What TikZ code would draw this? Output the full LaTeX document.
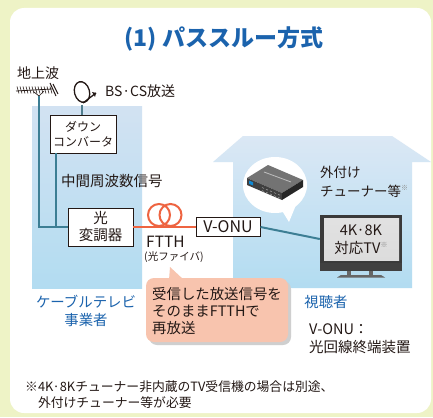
\documentclass[tikz,border=0pt]{standalone}
\usepackage{fontspec}
\setmainfont{Noto Sans CJK JP}
\usetikzlibrary{calc}

\definecolor{pagebg}{HTML}{EEF3C6}
\definecolor{titleblue}{HTML}{1B63AD}
\definecolor{ink}{HTML}{231815}
\definecolor{feedcol}{HTML}{3C7E94}
\definecolor{fibercol}{HTML}{EE6441}
\definecolor{zonetop}{HTML}{D2E2F2}
\definecolor{zonebot}{HTML}{B2DCF1}
\definecolor{bubblecol}{HTML}{F8C4AE}
\definecolor{shadowcol}{HTML}{CFCFCF}
\definecolor{tvframe}{HTML}{3A3A3A}
\definecolor{tvscreen}{HTML}{DCDCDC}
\definecolor{marknote}{HTML}{8A8A8A}

\newcommand\fsz[2]{\fontsize{#1}{#2}\selectfont}
\newcommand\kome{\raisebox{0.45em}{\fsz{7}{7}\textcolor{marknote}{※}}}

\tikzset{
  unitbox/.style={draw=ink, fill=white, line width=0.9pt, align=center, inner sep=0pt, text=ink},
  txt/.style={text=ink, align=left, inner sep=0pt},
  bluetxt/.style={text=titleblue, align=center, inner sep=0pt},
  feedline/.style={draw=feedcol, line width=2pt},
  fiberline/.style={draw=fibercol, line width=2pt},
}

\begin{document}
\begin{tikzpicture}[x=1pt,y=-1pt]
\useasboundingbox (0,0) rectangle (433,417);

% page and panel
\fill[pagebg] (0,0) rectangle (433,417);
\fill[white, rounded corners=14pt] (10,8) rectangle (431,413);

% cable operator zone
\shade[top color=zonetop, bottom color=zonebot] (32,107) rectangle (142,288);

% viewer's house
\shade[top color=zonetop!80!white, bottom color=zonebot]
  (233,288) -- (233,162) -- (213,162) -- (243,136) -- (392,136)
  -- (431,162) -- (412,162) -- (412,288) -- cycle;

% title
\node[bluetxt, font=\fsz{23}{26}\bfseries] (title) at (224,39) {(1) パススルー方式};

% terrestrial antenna
\coordinate (ant) at (39,96);
\draw[ink, line width=0.8pt] (16,91) -- (52,89);
\foreach \i in {0,...,11} {
  \draw[ink, line width=0.6pt] ({17+3*\i},86.5) -- ({19+3*\i},93.5);
}
\draw[ink, line width=1pt] (50,83) -- (56,96);
\draw[ink, line width=1pt] (53,84) -- (58,94);
\draw[ink, line width=0.7pt] (34,92) -- (39,96) -- (44,91);
\node[txt, anchor=west, font=\fsz{14}{17}] (tlabel) at (17,73) {地上波};

% satellite dish
\coordinate (dish) at (82,105);
\draw[ink, line width=1.3pt, rotate around={15:(82,92)}] (82,92) ellipse [x radius=7.5, y radius=10.5];
\draw[ink, line width=1.3pt] (83,103) -- (96,93);
\fill[ink] (96,93) -- (92,92) -- (95,97) -- cycle;
\node[txt, anchor=west, font=\fsz{14}{17}] (bslabel) at (105,91) {BS·CS放送};

% headend units
\node[unitbox, minimum width=66pt, minimum height=38pt, font=\fsz{12}{14.5}] (dc) at (83,134) {ダウン\\コンバータ};
\node[unitbox, minimum width=65pt, minimum height=38pt, font=\fsz{14.5}{17}] (mod) at (100.5,227) {光\\変調器};
\coordinate (dcout) at (56,153);

\draw[draw=feedcol!70!gray, line width=2pt] (dish) -- (dish |- dc.north);
\draw[feedline] (ant) |- (mod.west);
\draw[feedline] (dcout) -- (dcout |- mod.west);
\node[txt, anchor=west, font=\fsz{14.5}{17}] (iflabel) at (61,181) {中間周波数信号};

% optical fibre with coil
\node[unitbox, minimum width=64pt, minimum height=19pt, font=\fsz{16}{17}] (onu) at (228,227) {V-ONU};
\draw[fiberline] (mod.east) -- (onu.west);
\draw[fiberline] (159,215) circle [radius=11];
\draw[fiberline] (170.5,215) circle [radius=11];
\node[txt, anchor=west, font=\fsz{15.5}{17}] (ftth) at (146,242) {FTTH};
\node[txt, anchor=west, font=\fsz{10.5}{12}] (fiber) at (144,257) {(光ファイバ)};

% television
\fill[tvframe] (320,215) rectangle (402,271);
\fill[black!75] (320,263) rectangle (402,271);
\shade[top color=tvscreen!85!white, bottom color=tvscreen] (324,218) rectangle (399,260);
\fill[black!60] (347,271) rectangle (351,276);
\fill[black!60] (369,271) rectangle (373,276);
\fill[black!60] (337,277.5) -- (341,275) -- (381,275) -- (385,277.5) -- cycle;
\node[inner sep=0pt, minimum width=82pt, minimum height=48pt] (tv) at (361,239) {};
\node[txt, align=center, font=\fsz{14.5}{18}] (tvtext) at (361,240) {4K·8K\\対応TV\kome};
\draw[feedline] (onu.east) -- (tv.west);

% tuner speech balloon
\fill[white] (275,185) ellipse [x radius=32, y radius=28];
\fill[white] (281,209) -- (289,222) -- (296,205) -- cycle;
% set-top tuner
\fill[black!55] (247,178) -- (268,165) -- (303,180) -- (282,193) -- cycle;
\fill[black!75] (247,178) -- (282,193) -- (282,200) -- (247,185) -- cycle;
\fill[black!85] (282,193) -- (303,180) -- (303,187) -- (282,200) -- cycle;
\draw[black!25, line width=0.8pt] (264,172) -- (291,182);
\fill[cyan!70!blue] (249,180.5) -- (253,182.2) -- (253,185.5) -- (249,183.8) -- cycle;
\foreach \i in {0,...,4} {
  \draw[black!35, line width=0.5pt] ({262+4*\i},{187.5+1.7*\i}) -- ({264+4*\i},{188.4+1.7*\i});
  \draw[black!35, line width=0.5pt] ({262+4*\i},{190.5+1.7*\i}) -- ({264+4*\i},{191.4+1.7*\i});
}
\node[txt, anchor=west, font=\fsz{13.5}{19}] (tuner) at (320,182) {外付け\\チューナー等\kome};

% rebroadcast note balloon
\fill[shadowcol, rounded corners=8pt] (149,281) rectangle (291,345);
\fill[bubblecol, rounded corners=8pt] (146,278) rectangle (288,342);
\fill[bubblecol] (169,280) -- (170,267) -- (184,280) -- cycle;
\node[txt, anchor=west, font=\fsz{14.4}{17}] (note) at (152,311) {受信した放送信号を\\そのままFTTHで\\再放送};

% zone captions
\node[bluetxt, font=\fsz{14.4}{18}] (cable) at (86,311) {ケーブルテレビ\\事業者};
\node[bluetxt, font=\fsz{14.4}{18}] (viewer) at (326,302) {視聴者};
\node[txt, anchor=west, font=\fsz{14.5}{18}] (onudef) at (309,339) {V-ONU：\\光回線終端装置};

% footnote
\node[txt, anchor=west, font=\fsz{12.8}{16}] (foot) at (25,395) {※4K·8Kチューナー非内蔵のTV受信機の場合は別途、\\\hspace*{1em}外付けチューナー等が必要};
\end{tikzpicture}
\end{document}
